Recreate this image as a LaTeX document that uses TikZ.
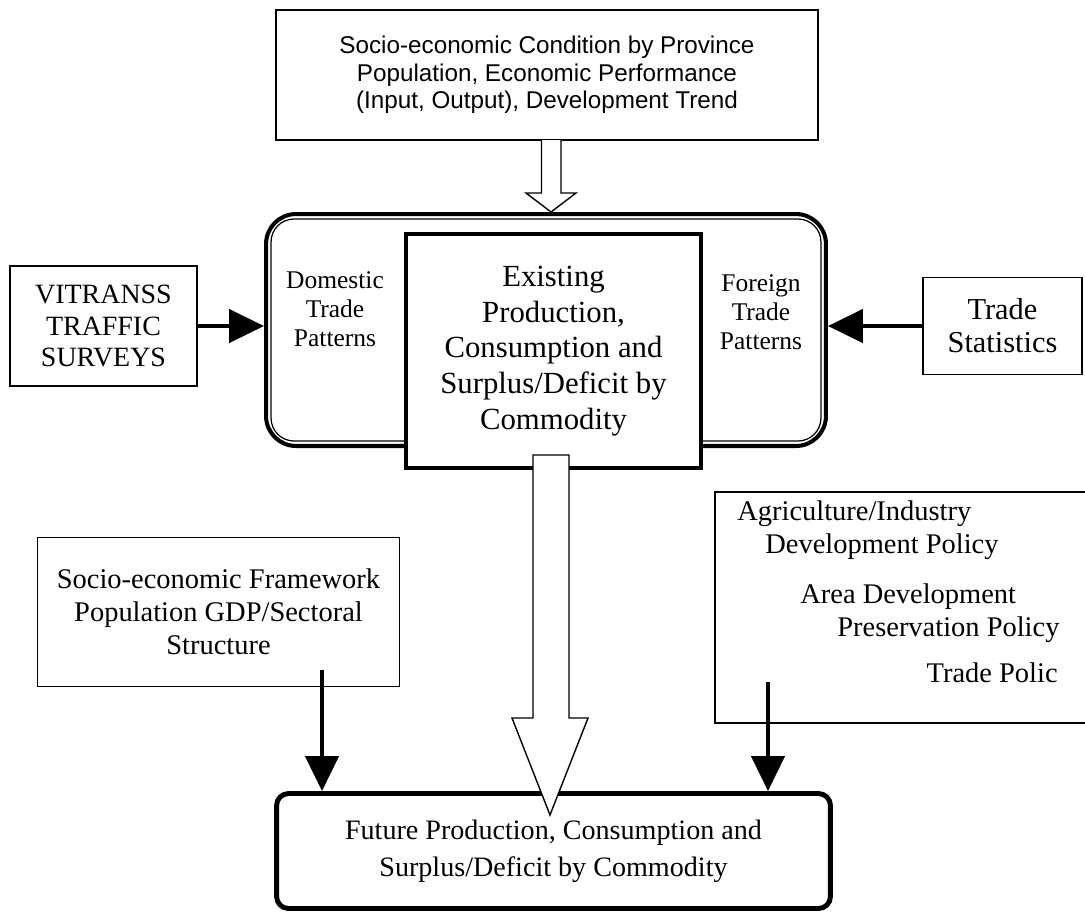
\documentclass[tikz,border=0pt]{standalone}
\usepackage{fontspec}
\setmainfont{Liberation Serif}
\newfontfamily\arialfont{Liberation Sans}
\usetikzlibrary{arrows.meta, calc}

\begin{document}
\begin{tikzpicture}[x=0.02cm, y=-0.02cm,
  box/.style={draw, line width=0.85pt, align=center, inner sep=0pt},
  plain/.style={inner sep=0pt, align=center},
  policytext/.style={inner sep=0pt, font={\fontsize{16.2pt}{18.7pt}\selectfont}},
  solidarrow/.style={line width=2.6pt, -{Triangle[length=0.7cm, width=0.66cm]}},
  hollow/.style={draw, line width=0.8pt, fill=white, line join=miter}]
  \useasboundingbox (0,0) rectangle (1085,914);

  \node[box, minimum width=10.84cm, minimum height=2.6cm,
        font={\arialfont\fontsize{13.8pt}{15.6pt}\selectfont}] (cond) at (547,75)
    {Socio-economic Condition by Province\\Population, Economic Performance\\(Input, Output), Development Trend};

  \node[draw, line width=2.3pt, rounded corners=0.6cm, minimum width=11.2cm,
        minimum height=4.64cm] (patterns) at (546,330) {};
  \draw[line width=0.7pt, rounded corners=0.46cm]
    ($(patterns.north west)+(0.14cm,-0.14cm)$) rectangle ($(patterns.south east)+(-0.14cm,0.14cm)$);
  \node[plain, font={\fontsize{14.5pt}{16.4pt}\selectfont}] (domestic) at (335,309) {Domestic\\Trade\\Patterns};
  \node[plain, font={\fontsize{14.5pt}{16.4pt}\selectfont}] (foreign) at (761,312) {Foreign\\Trade\\Patterns};

  \node[draw, line width=2.3pt, fill=white, minimum width=5.9cm, minimum height=4.68cm,
        align=center, font={\fontsize{17.5pt}{20.3pt}\selectfont}] (existing) at (553.5,351)
    {Existing\\Production,\\Consumption and\\Surplus/Deficit by\\Commodity};

  \node[box, minimum width=3.74cm, minimum height=2.4cm,
        font={\fontsize{15.9pt}{17.9pt}\selectfont}] (vitranss) at (103.5,326) {VITRANSS\\TRAFFIC\\SURVEYS};
  \node[box, minimum width=3.18cm, minimum height=1.94cm,
        font={\fontsize{17.3pt}{18.7pt}\selectfont}] (tradestat) at (1002.5,326) {Trade\\Statistics};

  \node[box, minimum width=7.24cm, minimum height=2.98cm,
        font={\fontsize{16.2pt}{18.7pt}\selectfont}] (frame) at (218.5,612)
    {Socio-economic Framework\\Population GDP/Sectoral\\Structure};

  \node[minimum width=7.4cm, minimum height=4.62cm, inner sep=0pt, outer sep=0pt] (policy) at (900,607.5) {};
  \draw[line width=0.85pt] (policy.north east) -- (policy.north west) -- (policy.south west) -- (policy.south east);
  \node[policytext, anchor=west] (agri) at (737,514) {Agriculture/Industry};
  \node[policytext, anchor=west] (devpol) at (765,547) {Development Policy};
  \node[policytext, anchor=west] (area) at (800,597) {Area Development};
  \node[policytext, anchor=west] (preserve) at (837,630) {Preservation Policy};
  \node[policytext, anchor=east] (tradepol) at (1058,673) {Trade Polic};

  \node[draw, line width=2.8pt, rounded corners=0.24cm, minimum width=11.08cm, minimum height=2.3cm,
        align=center, font={\fontsize{16pt}{21pt}\selectfont}] (future) at (553.5,851)
    {Future Production, Consumption and\\Surplus/Deficit by Commodity};

  \coordinate (frame out) at (322,670);
  \coordinate (policy out) at (768,682);
  \draw[solidarrow] (vitranss.east) -- (vitranss.east -| patterns.west);
  \draw[solidarrow] (tradestat.west) -- (tradestat.west -| patterns.east);
  \draw[solidarrow] (frame out) -- (frame out |- future.north);
  \draw[solidarrow] (policy out) -- (policy out |- future.north);

  \draw[hollow] (541.5,140) -- (541.5,193) -- (526,193) -- (551,212) -- (576,193) -- (561,193) -- (561,140);
  \draw[hollow] (533,455) -- (533,718) -- (512,718) -- (550,815) -- (588,718) -- (569,718) -- (569,455) -- cycle;
\end{tikzpicture}
\end{document}
